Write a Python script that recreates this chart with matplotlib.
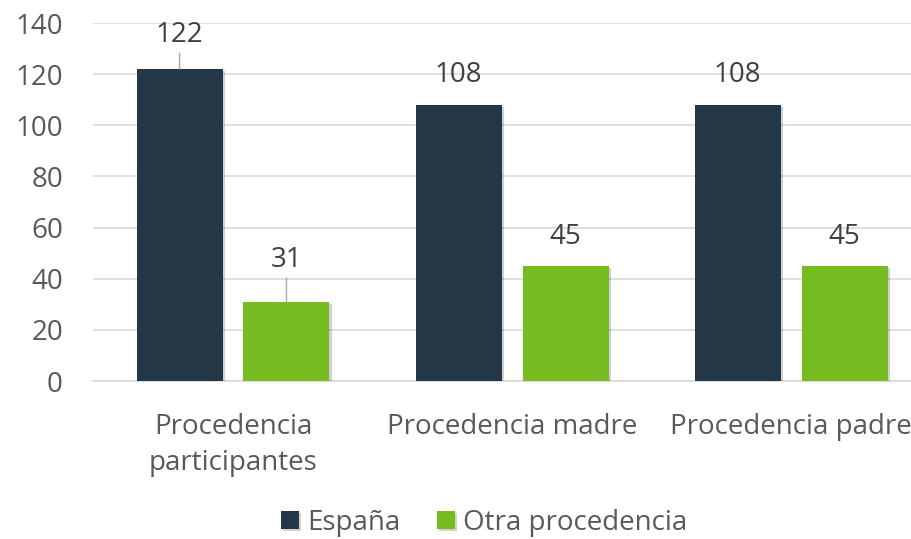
import numpy as np
import matplotlib.pyplot as plt
import matplotlib.patheffects as pe

categories = ['Procedencia\nparticipantes', 'Procedencia madre', 'Procedencia padre']
espana = [122, 108, 108]
otra = [31, 45, 45]
series_names = ['España', 'Otra procedencia']

plt.rcParams['font.family'] = ['Open Sans', 'DejaVu Sans']
text_color = '#595959'
label_color = '#404040'
fs = 20

fig = plt.figure(figsize=(9.12, 5.39), dpi=100)
ax = fig.add_axes([0.1025, 0.2931, 0.918, 0.6642])

x = np.arange(len(categories))
w = 0.308
off = (w + 0.075) / 2
shadow = [pe.SimplePatchShadow(offset=(1.5, -1.5), shadow_rgbFace='#000000', alpha=0.18), pe.Normal()]
b1 = ax.bar(x - off, espana, w, color='#243746', label=series_names[0], zorder=3)
b2 = ax.bar(x + off, otra, w, color='#76BC21', label=series_names[1], zorder=3)
for b in list(b1) + list(b2):
    b.set_path_effects(shadow)

leader = dict(arrowstyle='-', color='#a6a6a6', lw=1, shrinkA=1, shrinkB=0)

# data labels; the first group was moved up in the original, with leader lines
for i, v in enumerate(espana):
    if i == 0:
        ax.annotate(str(v), (x[i] - off, v), xytext=(0, 19.5), textcoords='offset points',
                    ha='center', va='baseline', fontsize=fs, color=label_color, arrowprops=leader)
    else:
        ax.annotate(str(v), (x[i] - off, v), xytext=(0, 16.5), textcoords='offset points',
                    ha='center', va='baseline', fontsize=fs, color=label_color)
for i, v in enumerate(otra):
    if i == 0:
        ax.annotate(str(v), (x[i] + off, v), xytext=(0, 25), textcoords='offset points',
                    ha='center', va='baseline', fontsize=fs, color=label_color, arrowprops=leader)
    else:
        ax.annotate(str(v), (x[i] + off, v), xytext=(0, 16), textcoords='offset points',
                    ha='center', va='baseline', fontsize=fs, color=label_color)

ax.set_xlim(-0.5, 2.5)
ax.set_ylim(0, 140)
ax.set_yticks(range(0, 141, 20))
ax.set_xticks(x)
ax.set_xticklabels(categories, fontsize=fs, color=text_color, linespacing=1.4)
ax.tick_params(axis='y', labelsize=fs, labelcolor=text_color, length=0, pad=22)
ax.tick_params(axis='x', length=0, pad=23)
ax.grid(axis='y', color='#d9d9d9', lw=1.2, zorder=0)
for s in ['top', 'right', 'left']:
    ax.spines[s].set_visible(False)
ax.spines['bottom'].set_color('#d9d9d9')
ax.spines['bottom'].set_linewidth(1.2)

fig.legend(handles=[b1, b2], labels=series_names, loc='center', bbox_to_anchor=(0.531, 0.03),
           ncol=2, frameon=False, fontsize=fs, handlelength=0.65, handleheight=0.65,
           handletextpad=0.3, columnspacing=1.3, labelcolor=text_color, borderpad=0)

fig.savefig('out.png', dpi=100)
